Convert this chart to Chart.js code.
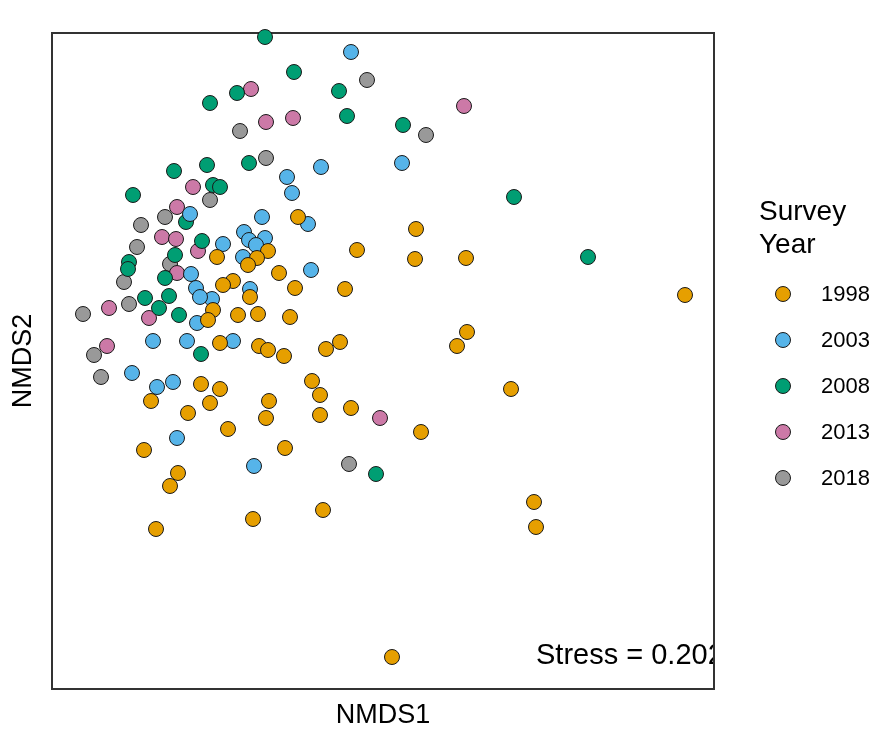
<!DOCTYPE html>
<html>
<head>
<meta charset="utf-8">
<script src="https://cdn.jsdelivr.net/npm/chart.js@4.4.1/dist/chart.umd.min.js"></script>
<style>
  body { margin: 0; background: #fff; }
</style>
</head>
<body>
<canvas id="myChart" width="872" height="732"></canvas>
<script>
// NMDS site scores, one pair of arrays per survey year
const years = ["1998", "2003", "2008", "2013", "2018"];
const colors = ["#E69F00", "#56B4E9", "#009E73", "#CC79A7", "#999999"];

const x1998 = [-0.010, -0.160, -0.215, -0.415, -0.260, -0.105, -0.335, -0.385, -0.025, -0.250,
  -0.435, -0.460, -0.310, -0.210, -0.050, -0.400, -0.205, -0.160, -0.080, 0.130,
  0.200, 0.060, 0.100, -0.400, -0.495, -0.450, -0.155, 0.255, 0.100, -0.170,
  -0.745, -0.560, -0.360, -0.780, -0.075, 0.605, 1.055, -0.610, -0.650, 1.170,
  1.180, -0.720, -0.235, 0.115, 0.460, 0.285, 0.580, 0.575, 0.830, 1.925,
  0.835, 0.785, 0.225];
const y1998 = [0.715, 0.545, 0.510, 0.515, 0.475, 0.435, 0.395, 0.375, 0.360, 0.315,
  0.250, 0.200, 0.225, 0.230, 0.215, 0.085, 0.070, 0.050, 0.020, 0.055,
  0.090, -0.105, -0.175, -0.145, -0.120, -0.215, -0.205, -0.240, -0.275, -0.290,
  -0.205, -0.265, -0.345, -0.450, -0.440, -0.360, -0.145, -0.565, -0.630, -0.710,
  -0.835, -0.845, -0.795, -0.750, -1.485, 0.550, 0.655, 0.505, 0.510, 0.325,
  0.140, 0.070, 0.355];

const x2003 = [0.255, 0.510, 0.105, -0.065, -0.040, -0.190, 0.040, -0.280, -0.255, -0.175,
  -0.220, -0.385, -0.285, 0.055, -0.545, -0.520, -0.250, -0.440, -0.500, -0.515,
  -0.735, -0.565, -0.335, -0.840, -0.635, -0.715, -0.615, -0.230, -0.550];
const y2003 = [1.540, 0.985, 0.965, 0.915, 0.835, 0.715, 0.680, 0.640, 0.600, 0.610,
  0.575, 0.580, 0.515, 0.450, 0.430, 0.360, 0.355, 0.305, 0.315, 0.185,
  0.095, 0.095, 0.095, -0.065, -0.110, -0.135, -0.390, -0.530, 0.730];

const x2008 = [-0.175, -0.030, -0.315, -0.450, 0.195, 0.235, 0.515, -0.255, -0.630, -0.465,
  -0.835, -0.435, -0.400, -0.570, -0.490, -0.625, -0.855, -0.860, -0.675, -0.775,
  -0.655, -0.705, -0.605, -0.495, 1.070, 1.440, 0.380];
const y2008 = [1.615, 1.440, 1.335, 1.285, 1.345, 1.220, 1.175, 0.985, 0.945, 0.975,
  0.825, 0.875, 0.865, 0.690, 0.595, 0.525, 0.490, 0.455, 0.410, 0.310,
  0.320, 0.260, 0.225, 0.030, 0.815, 0.515, -0.570];

const x2013 = [-0.245, -0.170, -0.035, 0.820, -0.535, -0.615, -0.690, -0.620, -0.510, -0.615,
  -0.955, -0.755, -0.965, 0.400];
const y2013 = [1.355, 1.190, 1.210, 1.270, 0.865, 0.765, 0.615, 0.605, 0.545, 0.435,
  0.260, 0.210, 0.070, -0.290];

const x2018 = [0.335, 0.630, -0.300, -0.170, -0.450, -0.675, -0.795, -0.815, -0.650, -0.880,
  -0.855, -1.085, -1.030, -0.995, 0.245];
const y2018 = [1.400, 1.125, 1.145, 1.010, 0.800, 0.715, 0.675, 0.565, 0.480, 0.390,
  0.280, 0.230, 0.025, -0.085, -0.520];

const stressText = "Stress = 0.202";

const xs = [x1998, x2003, x2008, x2013, x2018];
const ys = [y1998, y2003, y2008, y2013, y2018];

const fontFamily = "'Liberation Sans', Arial, sans-serif";
Chart.defaults.font.family = fontFamily;
Chart.defaults.color = "#000";

// panel border, stress label (clipped to the panel) and the year legend
const decorations = {
  id: "decorations",
  beforeDatasetsDraw(chart) {
    const { ctx, chartArea, scales } = chart;
    ctx.save();
    ctx.beginPath();
    ctx.rect(chartArea.left, chartArea.top, chartArea.right - chartArea.left, chartArea.bottom - chartArea.top);
    ctx.clip();
    ctx.fillStyle = "#000";
    ctx.font = "29px " + fontFamily;
    ctx.textAlign = "left";
    ctx.textBaseline = "alphabetic";
    ctx.fillText(stressText, scales.x.getPixelForValue(1.18), scales.y.getPixelForValue(-1.52));
    ctx.restore();

    ctx.save();
    ctx.strokeStyle = "#333";
    ctx.lineWidth = 2;
    ctx.strokeRect(chartArea.left, chartArea.top, chartArea.right - chartArea.left, chartArea.bottom - chartArea.top);
    ctx.restore();
  },
  afterDraw(chart) {
    const { ctx } = chart;
    ctx.save();
    ctx.fillStyle = "#000";
    ctx.textAlign = "left";
    ctx.textBaseline = "alphabetic";
    ctx.font = "28px " + fontFamily;
    ctx.fillText("Survey", 759, 220);
    ctx.fillText("Year", 759, 253);
    ctx.font = "22px " + fontFamily;
    ctx.textBaseline = "middle";
    chart.data.datasets.forEach((ds, i) => {
      const cy = 294 + i * 46;
      ctx.beginPath();
      ctx.arc(783, cy, 7.5, 0, Math.PI * 2);
      ctx.fillStyle = ds.backgroundColor;
      ctx.fill();
      ctx.lineWidth = 1;
      ctx.strokeStyle = ds.borderColor;
      ctx.stroke();
      ctx.fillStyle = "#000";
      ctx.fillText(ds.label, 821, cy + 1);
    });
    ctx.restore();
  }
};

const ctx = document.getElementById("myChart").getContext("2d");
const myChart = new Chart(ctx, {
  type: "scatter",
  data: {
    datasets: years.map((year, i) => ({
      label: year,
      data: xs[i].map((x, j) => ({ x: x, y: ys[i][j] })),
      backgroundColor: colors[i],
      borderColor: "#1a1a1a",
      borderWidth: 1,
      pointRadius: 7.5,
      pointHoverRadius: 7.5,
      clip: false,
    })),
  },
  options: {
    responsive: false,
    animation: false,
    layout: { padding: { left: 0, top: 33, right: 158, bottom: 0 } },
    plugins: {
      legend: { display: false },
      tooltip: { enabled: false },
    },
    scales: {
      x: {
        type: "linear",
        min: -1.24,
        max: 2.07,
        grid: { display: false },
        border: { display: false },
        ticks: { display: false },
        title: { display: true, text: "NMDS1", font: { size: 27 }, padding: { top: 0, bottom: 0 } },
        afterFit: (scale) => { scale.height = 43; },
      },
      y: {
        type: "linear",
        min: -1.645,
        max: 1.635,
        grid: { display: false },
        border: { display: false },
        ticks: { display: false },
        title: { display: true, text: "NMDS2", font: { size: 27 }, padding: { top: 7, bottom: 0 } },
        afterFit: (scale) => { scale.width = 52; },
      },
    },
  },
  plugins: [decorations],
});
</script>
</body>
</html>
